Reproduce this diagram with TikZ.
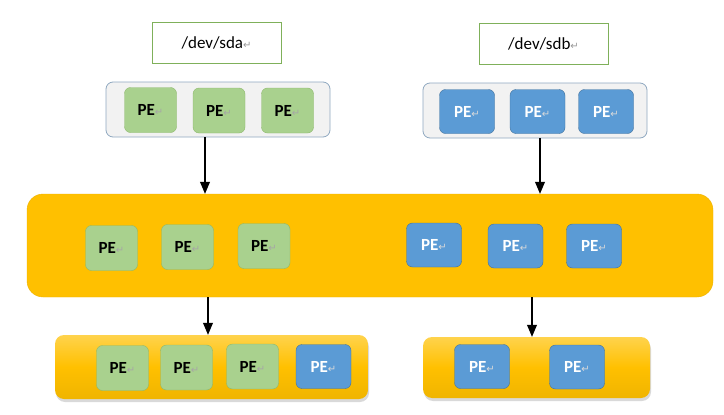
\documentclass[tikz,border=0pt]{standalone}
\usepackage{fontspec}
\setmainfont{Carlito}
\newfontfamily\symfont{DejaVu Sans}
\usepackage{tikz}
\usetikzlibrary{arrows,shadows}
\usepackage{xcolor}
\definecolor{pegreen}{HTML}{A9D18E}
\definecolor{pegreenline}{HTML}{8DB86C}
\definecolor{peblue}{HTML}{5B9BD5}
\definecolor{peblueline}{HTML}{41719C}
\definecolor{poolorange}{HTML}{FFC000}
\definecolor{poolline}{HTML}{EDB200}
\definecolor{vggray}{HTML}{F2F2F2}
\definecolor{vgline}{HTML}{8FA8C0}
\definecolor{devline}{HTML}{7FB05A}
\newcommand{\pmark}[1]{{\symfont\fontsize{10}{10}\selectfont\color{#1}↵}}

\begin{document}
\begin{tikzpicture}[x=1pt,y=-1pt,font=\fontsize{17}{20}\selectfont]
\tikzstyle{dev} = [rectangle, draw=devline, thin, fill=white,
minimum width=129pt, minimum height=41pt]
\tikzstyle{vg} = [rectangle, draw=vgline, thick, fill=vggray,
rounded corners=7pt, minimum width=224pt, minimum height=55pt]
\tikzstyle{pool} = [rectangle, draw=poolline, fill=poolorange,
rounded corners=16pt, minimum width=686pt, minimum height=103pt]
\tikzstyle{lv} = [rectangle, rounded corners=9pt, top color=poolorange!70!white,
bottom color=poolorange!94!black, middle color=poolorange,
drop shadow={shadow xshift=1pt, shadow yshift=-3pt, opacity=0.3}]
\tikzstyle{pe_g} = [rectangle, draw=pegreenline, fill=pegreen, rounded corners=6pt,
minimum width=52pt, minimum height=45pt, inner sep=0pt]
\tikzstyle{pe_b} = [rectangle, draw=peblueline, fill=peblue, rounded corners=6pt,
minimum width=55pt, minimum height=44pt, inner sep=0pt, text=white]
\tikzstyle{line} = [draw, line width=1.8pt, -triangle 45]
\useasboundingbox (0,0) rectangle (724,415);

% devices
\node [dev] (sda) at (216.5,42.5) {/dev/sda\pmark{gray!80}};
\node [dev] (sdb) at (543.5,43.5) {/dev/sdb\pmark{gray!80}};
% volume groups
\node [vg] (vgL) at (218,109.5) {};
\node [vg] (vgR) at (535,110.5) {};
\node [pe_g] (ta1) at (150.5,110) {\textbf{PE}\pmark{gray!70}};
\node [pe_g] (ta2) at (219,110.5) {\textbf{PE}\pmark{gray!70}};
\node [pe_g] (ta3) at (287.5,110.5) {\textbf{PE}\pmark{gray!70}};
\node [pe_b] (tb1) at (467,111.5) {\textbf{PE}\pmark{gray!30}};
\node [pe_b] (tb2) at (537.5,111.5) {\textbf{PE}\pmark{gray!30}};
\node [pe_b] (tb3) at (606,111.5) {\textbf{PE}\pmark{gray!30}};
% pool
\node [pool] (pool) at (370,245.5) {};
\node [pe_g] (ma1) at (111.5,248) {\textbf{PE}\pmark{gray!70}};
\node [pe_g] (ma2) at (187.5,247) {\textbf{PE}\pmark{gray!70}};
\node [pe_g] (ma3) at (264,246) {\textbf{PE}\pmark{gray!70}};
\node [pe_b] (mb1) at (434,245) {\textbf{PE}\pmark{gray!30}};
\node [pe_b] (mb2) at (515.5,246) {\textbf{PE}\pmark{gray!30}};
\node [pe_b] (mb3) at (594,246) {\textbf{PE}\pmark{gray!30}};
% logical volumes
\node [lv, minimum width=313pt, minimum height=64pt] (lvL) at (211.5,367) {};
\node [lv, minimum width=227pt, minimum height=61pt] (lvR) at (536.5,367.5) {};
\node [pe_g] (ba1) at (122.5,368) {\textbf{PE}\pmark{gray!70}};
\node [pe_g] (ba2) at (186.5,367.5) {\textbf{PE}\pmark{gray!70}};
\node [pe_g] (ba3) at (252.5,366.5) {\textbf{PE}\pmark{gray!70}};
\node [pe_b] (ba4) at (323.5,366.5) {\textbf{PE}\pmark{gray!30}};
\node [pe_b] (bb1) at (482,366.5) {\textbf{PE}\pmark{gray!30}};
\node [pe_b] (bb2) at (577,367) {\textbf{PE}\pmark{gray!30}};

\tikzstyle{every path}=[line]
\path ([xshift=-13pt]vgL.south) -- ([xshift=-13pt]vgL.south |- pool.north);
\path ([xshift=5pt]vgR.south) -- ([xshift=5pt]vgR.south |- pool.north);
\path ([xshift=-3.5pt]lvL.north |- pool.south) -- ([xshift=-3.5pt]lvL.north);
\path ([xshift=-4.5pt]lvR.north |- pool.south) -- ([xshift=-4.5pt]lvR.north);
\end{tikzpicture}
\end{document}
